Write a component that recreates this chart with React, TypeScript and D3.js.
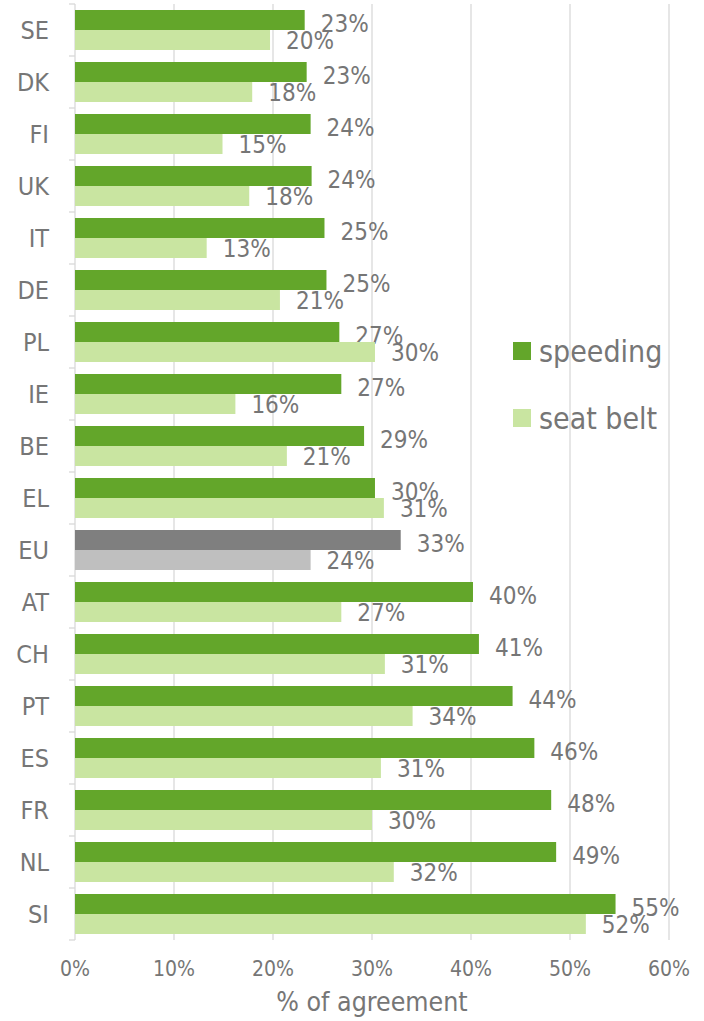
import React from "react";
import * as d3 from "d3";

const countries = ["SE", "DK", "FI", "UK", "IT", "DE", "PL", "IE", "BE", "EL", "EU", "AT", "CH", "PT", "ES", "FR", "NL", "SI"];
const speeding = [23.2, 23.4, 23.8, 23.9, 25.2, 25.4, 26.7, 26.9, 29.2, 30.3, 32.9, 40.2, 40.8, 44.2, 46.4, 48.1, 48.6, 54.6];
const seatBelt = [19.7, 17.9, 14.9, 17.6, 13.3, 20.7, 30.3, 16.2, 21.4, 31.2, 23.8, 26.9, 31.3, 34.1, 30.9, 30.0, 32.2, 51.6];
const xTicks = [0, 10, 20, 30, 40, 50, 60];
const seriesNames = ["speeding", "seat belt"];

const W = 704;
const H = 1021;
const font = "'DejaVu Sans Condensed', 'DejaVu Sans', sans-serif";
const textColor = "#767676";
const gridColor = "#d9d9d9";

const App = () => {
  const x = d3.scaleLinear().domain([0, 60]).range([75, 669]);
  const y = d3.scaleBand().domain(countries).range([4, 940]).padding(0);
  const inner = d3
    .scaleBand()
    .domain(seriesNames)
    .range([0, y.bandwidth()])
    .paddingInner(0)
    .paddingOuter(0.3);

  const colorFor = (c, s) => {
    if (c === "EU") return s === 0 ? "#7f7f7f" : "#bfbfbf";
    return s === 0 ? "#63a62a" : "#c9e5a1";
  };

  const boundaries = countries.map((c) => y(c)).concat([y.range()[1]]);

  return (
    <svg
      width={W}
      height={H}
      style={{ position: "absolute", left: 0, top: 0, background: "#fff" }}
      fontFamily={font}
    >
      {/* gridlines */}
      {xTicks.slice(1).map((t) => (
        <line key={t} x1={x(t)} x2={x(t)} y1={4} y2={940} stroke={gridColor} strokeWidth={1.3} />
      ))}
      {/* y axis line + ticks */}
      <line x1={x(0)} x2={x(0)} y1={4} y2={940} stroke={gridColor} strokeWidth={1.3} />
      {boundaries.map((b, i) => (
        <line key={i} x1={69} x2={x(0)} y1={b} y2={b} stroke={gridColor} strokeWidth={1.3} />
      ))}

      {/* bars */}
      {countries.map((c, i) => {
        const vals = [speeding[i], seatBelt[i]];
        return (
          <g key={c}>
            {vals.map((v, s) => {
              const by = y(c) + inner(seriesNames[s]);
              return (
                <g key={s}>
                  <rect x={x(0)} y={by} width={x(v) - x(0)} height={inner.bandwidth()} fill={colorFor(c, s)} />
                  <text
                    x={x(v) + 16}
                    y={by + inner.bandwidth() / 2 + (s === 0 ? 3.5 : 1)}
                    dy="0.35em"
                    fontSize={24}
                    fill={textColor}
                  >
                    {Math.round(v)}%
                  </text>
                </g>
              );
            })}
            <text
              x={49}
              y={y(c) + y.bandwidth() / 2}
              dy="0.36em"
              textAnchor="end"
              fontSize={25}
              fill={textColor}
            >
              {c}
            </text>
          </g>
        );
      })}

      {/* x tick labels */}
      {xTicks.map((t) => (
        <text key={t} x={x(t)} y={976} textAnchor="middle" fontSize={21} fill={textColor}>
          {t}%
        </text>
      ))}
      <text x={(x(0) + x(60)) / 2} y={1011} textAnchor="middle" fontSize={26.5} fill={textColor}>
        % of agreement
      </text>

      {/* legend */}
      {seriesNames.map((s, i) => (
        <g key={s} transform={`translate(513,${342 + i * 67})`}>
          <rect width={18} height={18} fill={i === 0 ? "#63a62a" : "#c9e5a1"} />
          <text x={26} y={9} dy="0.36em" fontSize={30} fill={textColor}>
            {s}
          </text>
        </g>
      ))}
    </svg>
  );
};

export default App;
